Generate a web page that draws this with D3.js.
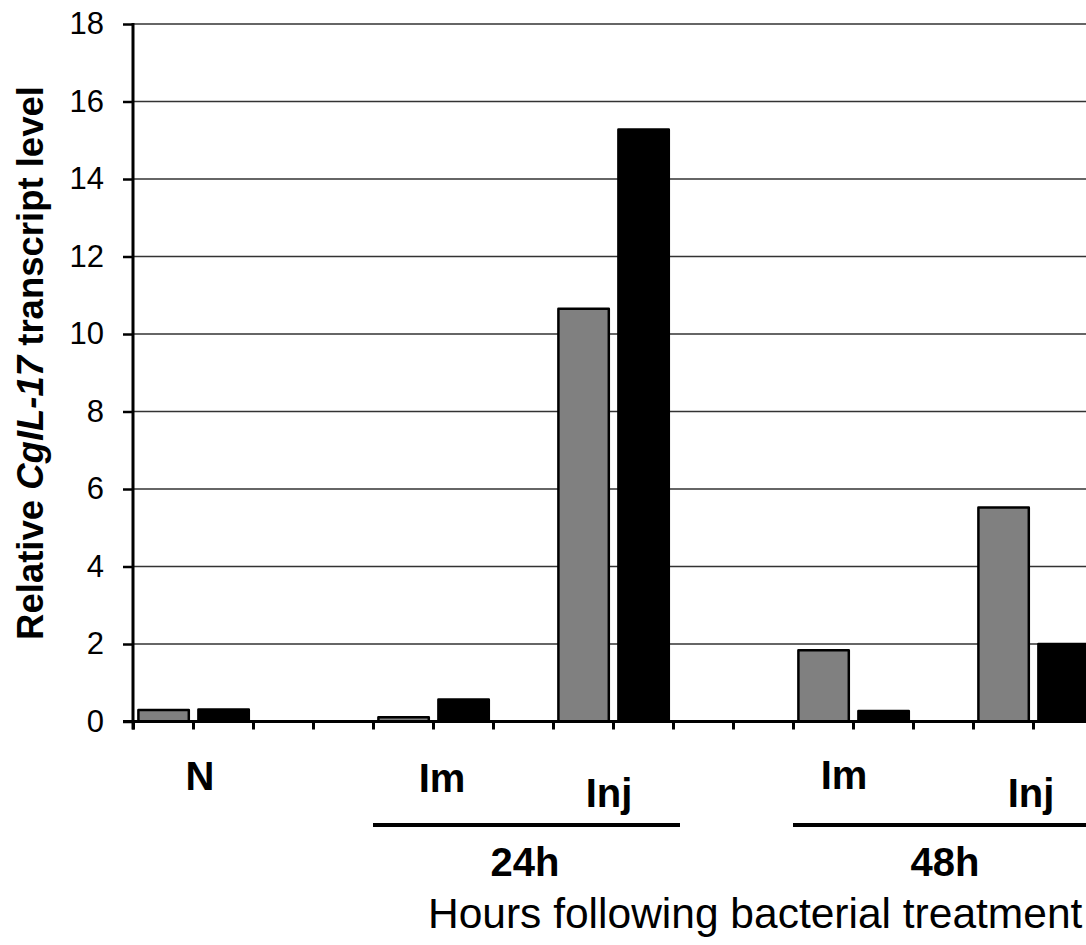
<!DOCTYPE html>
<html>
<head>
<meta charset="utf-8">
<script src="https://cdn.jsdelivr.net/npm/d3@7"></script>
<style>
  body { margin: 0; background: #fff; }
  text { font-family: "Liberation Sans", Arial, sans-serif; }
</style>
</head>
<body>
<script>
// chart data: one category slot per bar, blanks are the gaps
var slotLabels = ["N", "N", "", "", "Im", "Im", "", "Inj", "Inj", "", "", "Im", "Im", "", "Inj", "Inj"];
var slotTimes  = ["", "", "", "", "24h", "24h", "24h", "24h", "24h", "", "", "48h", "48h", "48h", "48h", "48h"];
var slotSeries = ["grey", "black", null, null, "grey", "black", null, "grey", "black", null, null, "grey", "black", null, "grey", "black"];
var slotValues = [0.30, 0.31, null, null, 0.11, 0.57, null, 10.65, 15.28, null, null, 1.84, 0.27, null, 5.52, 2.00];
var yTicks = [0, 2, 4, 6, 8, 10, 12, 14, 16, 18];

var width = 1086, height = 945;
var left = 133, y0 = 721.5, yTop = 24;

var svg = d3.select("body").append("svg")
	.attr("width", width)
	.attr("height", height);

svg.append("rect").attr("width", width).attr("height", height).attr("fill", "#fff");

var xScale = d3.scaleBand()
	.domain(d3.range(slotLabels.length))
	.range([left, left + slotLabels.length * 60]);

var xEdge = d3.scaleLinear()
	.domain([0, slotLabels.length])
	.range([left, left + slotLabels.length * 60]);

var yScale = d3.scaleLinear()
	.domain([0, 18])
	.range([y0, yTop]);

// gridlines
svg.append("g")
	.selectAll("line")
	.data(yTicks.slice(1))
	.enter().append("line")
	.attr("x1", left)
	.attr("x2", width)
	.attr("y1", function(d) { return yScale(d); })
	.attr("y2", function(d) { return yScale(d); })
	.attr("stroke", "#333")
	.attr("stroke-width", 1.3);

// bars
var bw = xScale.bandwidth();
svg.append("g")
	.selectAll("rect")
	.data(slotValues.map(function(v, i) { return {i: i, v: v, s: slotSeries[i]}; })
		.filter(function(d) { return d.v != null; }))
	.enter().append("rect")
	.attr("x", function(d) { return xScale(d.i) + bw * 0.09; })
	.attr("width", bw * 0.84)
	.attr("y", function(d) { return yScale(d.v); })
	.attr("height", function(d) { return y0 - yScale(d.v); })
	.attr("fill", function(d) { return d.s == "grey" ? "#808080" : "#000"; })
	.attr("stroke", "#000")
	.attr("stroke-width", 2.5)
	.attr("stroke-linejoin", "round");

// x axis: tick at every slot edge
var xAxis = svg.append("g")
	.attr("transform", "translate(0," + y0 + ")")
	.call(d3.axisBottom(xEdge).tickValues(d3.range(slotLabels.length + 1)).tickSize(8).tickFormat(""));
xAxis.select(".domain").remove();
xAxis.selectAll(".tick line").attr("stroke", "#000").attr("stroke-width", 3);
svg.append("line")
	.attr("x1", left - 10).attr("x2", width)
	.attr("y1", y0).attr("y2", y0)
	.attr("stroke", "#000").attr("stroke-width", 3);

// y axis
var yAxis = svg.append("g")
	.attr("transform", "translate(" + left + ",0)")
	.call(d3.axisLeft(yScale).tickValues(yTicks).tickSize(10).tickPadding(19));
yAxis.select(".domain").remove();
yAxis.selectAll(".tick line").attr("stroke", "#000").attr("stroke-width", 2.5);
yAxis.selectAll(".tick text")
	.attr("font-size", 31)
	.attr("fill", "#000")
	.style("font-family", "'Liberation Sans', Arial, sans-serif");
svg.append("line")
	.attr("x1", left).attr("x2", left)
	.attr("y1", yTop - 1).attr("y2", y0 + 8)
	.attr("stroke", "#000").attr("stroke-width", 3);

// y title
var yTitle = svg.append("text")
	.attr("transform", "translate(43,363) rotate(-90)")
	.attr("text-anchor", "middle")
	.attr("font-size", 36.5)
	.attr("font-weight", "bold")
	.attr("fill", "#000");
yTitle.append("tspan").text("Relative ");
yTitle.append("tspan").attr("font-style", "italic").text("CgIL-17");
yTitle.append("tspan").text(" transcript level");

// group labels under the axis (hand placed text boxes in the original)
var labelNudge = [[7, 0], [9, 2], [-4, 17], [-9, -1], [-2, 17]];
var groups = [];
slotLabels.forEach(function(l, i) {
	if (l === "") return;
	var last = groups[groups.length - 1];
	if (last && last.label == l && last.end == i - 1) last.end = i;
	else groups.push({label: l, start: i, end: i});
});
svg.append("g")
	.selectAll("text")
	.data(groups)
	.enter().append("text")
	.attr("x", function(d, i) { return (xEdge(d.start) + xEdge(d.end + 1)) / 2 + labelNudge[i][0]; })
	.attr("y", function(d, i) { return 790 + labelNudge[i][1]; })
	.attr("text-anchor", "middle")
	.attr("font-size", 40)
	.attr("font-weight", "bold")
	.attr("fill", "#000")
	.text(function(d) { return d.label; });

// time brackets
var times = [];
slotTimes.forEach(function(t, i) {
	if (t === "") return;
	var last = times[times.length - 1];
	if (last && last.label == t) last.end = i;
	else times.push({label: t, start: i, end: i});
});
var tg = svg.append("g").selectAll("g")
	.data(times)
	.enter().append("g");
tg.append("line")
	.attr("x1", function(d) { return xEdge(d.start); })
	.attr("x2", function(d) { return xEdge(d.end + 1) + 7; })
	.attr("y1", 825).attr("y2", 825)
	.attr("stroke", "#000")
	.attr("stroke-width", 4);
tg.append("text")
	.attr("x", function(d) { return (xEdge(d.start) + xEdge(d.end + 1)) / 2 + 2; })
	.attr("y", 876)
	.attr("text-anchor", "middle")
	.attr("font-size", 40)
	.attr("font-weight", "bold")
	.attr("fill", "#000")
	.text(function(d) { return d.label; });

// x title
svg.append("text")
	.attr("x", 428)
	.attr("y", 928)
	.attr("font-size", 42.5)
	.attr("fill", "#000")
	.text("Hours following bacterial treatment");
</script>
</body>
</html>
